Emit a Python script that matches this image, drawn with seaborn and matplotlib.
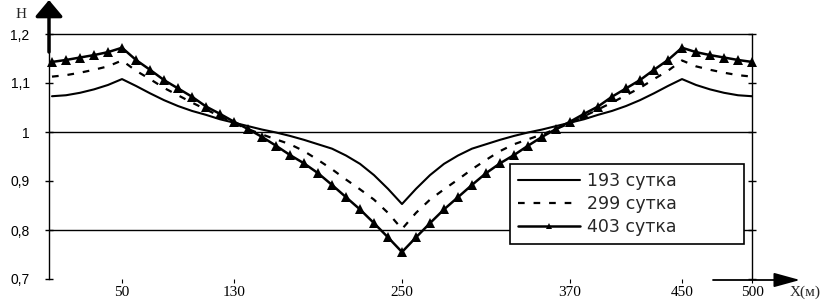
import pandas as pd
import seaborn as sns
import matplotlib.pyplot as plt

# Distance along the profile, m
x_m = list(range(0, 501, 10))

# Head H for three moments of time
h193 = [1.073, 1.075, 1.080, 1.087, 1.096, 1.108, 1.094, 1.079, 1.065, 1.053,
        1.043, 1.035, 1.026, 1.019, 1.012, 1.005, 0.999, 0.992, 0.984, 0.975,
        0.966, 0.952, 0.935, 0.912, 0.884, 0.853, 0.884, 0.912, 0.935, 0.952,
        0.966, 0.975, 0.984, 0.992, 0.999, 1.005, 1.012, 1.019, 1.026, 1.035,
        1.043, 1.053, 1.065, 1.079, 1.094, 1.108, 1.096, 1.087, 1.080, 1.075,
        1.073]
h299 = [1.113, 1.116, 1.121, 1.127, 1.134, 1.146, 1.125, 1.108, 1.090, 1.075,
        1.060, 1.046, 1.032, 1.018, 1.006, 0.995, 0.985, 0.975, 0.961, 0.943,
        0.924, 0.903, 0.883, 0.862, 0.835, 0.802, 0.835, 0.862, 0.883, 0.903,
        0.924, 0.943, 0.961, 0.975, 0.985, 0.995, 1.006, 1.018, 1.032, 1.046,
        1.060, 1.075, 1.090, 1.108, 1.125, 1.146, 1.134, 1.127, 1.121, 1.116,
        1.113]
h403 = [1.143, 1.147, 1.152, 1.157, 1.163, 1.172, 1.147, 1.127, 1.106, 1.089,
        1.072, 1.052, 1.037, 1.021, 1.006, 0.990, 0.972, 0.953, 0.936, 0.916,
        0.892, 0.867, 0.842, 0.814, 0.785, 0.755, 0.785, 0.814, 0.842, 0.867,
        0.892, 0.916, 0.936, 0.953, 0.972, 0.990, 1.006, 1.021, 1.037, 1.052,
        1.072, 1.089, 1.106, 1.127, 1.147, 1.172, 1.163, 1.157, 1.152, 1.147,
        1.143]

series_names = ['193 сутка', '299 сутка', '403 сутка']
x_ticks = [50, 130, 250, 370, 450, 500]
y_ticks = [0.7, 0.8, 0.9, 1.0, 1.1, 1.2]
y_labels = ['0,7', '0,8', '0,9', '1', '1,1', '1,2']
grid_levels = [0.8, 1.0, 1.2]

df = pd.DataFrame({'x': x_m, series_names[0]: h193,
                   series_names[1]: h299, series_names[2]: h403})

sns.set_style('white')
plt.rcParams['font.family'] = ['Liberation Sans', 'DejaVu Sans']

W, H = 826, 301
fig = plt.figure(figsize=(W / 100, H / 100), dpi=100)
ax = fig.add_axes([49 / W, 22 / H, 703 / W, 245 / H])

for lv in grid_levels:
    ax.axhline(lv, color='black', lw=1, zorder=1)

sns.lineplot(data=df, x='x', y=series_names[0], ax=ax, color='black',
             lw=1.5, label=series_names[0])
sns.lineplot(data=df, x='x', y=series_names[1], ax=ax, color='black',
             lw=1.6, linestyle=(0, (3, 4)), label=series_names[1])
sns.lineplot(data=df, x='x', y=series_names[2], ax=ax, color='black',
             lw=1.8, marker='^', markersize=6.5, markeredgewidth=0,
             label=series_names[2])
for ln in ax.lines:
    ln.set_clip_on(False)

ax.set_xlim(-2.14, 500)
ax.set_ylim(0.7, 1.2)
ax.set_xlabel('')
ax.set_ylabel('')

ax.set_yticks(y_ticks)
ax.set_yticklabels(y_labels, fontsize=10)
ax.set_xticks(x_ticks)
ax.set_xticklabels([str(v) for v in x_ticks], fontsize=11,
                   family='Liberation Serif')
ax.tick_params(axis='y', direction='inout', length=6, width=1,
               left=True, right=True, pad=11, colors='black')
ax.tick_params(axis='x', direction='out', length=3, width=0.8,
               bottom=True, pad=2, colors='black')

for side in ['top', 'bottom']:
    ax.spines[side].set_visible(False)
for side in ['left', 'right']:
    ax.spines[side].set_color('black')
    ax.spines[side].set_linewidth(1)

leg = ax.legend(loc='upper left', bbox_to_anchor=(0.656, 0.143, 0.333, 0.326),
                mode='expand', frameon=True, fancybox=False,
                edgecolor='black', framealpha=1, handlelength=3.6,
                handletextpad=0.4, labelspacing=0.3, borderpad=0.45,
                borderaxespad=0, markerscale=0.6,
                prop={'family': 'DejaVu Sans', 'size': 12.5})
leg.get_frame().set_linewidth(1.2)

# axis arrows
ax.annotate('', xy=(49 / W, 1.0), xytext=(49 / W, (H - 52) / H),
            xycoords='figure fraction', textcoords='figure fraction',
            arrowprops=dict(arrowstyle='-|>,head_width=0.42,head_length=0.5',
                            lw=2.5, color='black', mutation_scale=20,
                            shrinkA=0, shrinkB=0))
ax.annotate('', xy=(800 / W, (H - 280) / H), xytext=(713 / W, (H - 280) / H),
            xycoords='figure fraction', textcoords='figure fraction',
            arrowprops=dict(arrowstyle='-|>,head_width=0.22,head_length=0.8',
                            lw=1.3, color='black', mutation_scale=20,
                            shrinkA=0, shrinkB=0))

fig.text(21 / W, (H - 14) / H, 'H', family='Liberation Serif', fontsize=11,
         ha='center', va='center')
fig.text(805 / W, (H - 292) / H, 'X(м)', family='Liberation Serif',
         fontsize=11, ha='center', va='center')

fig.savefig('out.png', dpi=100)
